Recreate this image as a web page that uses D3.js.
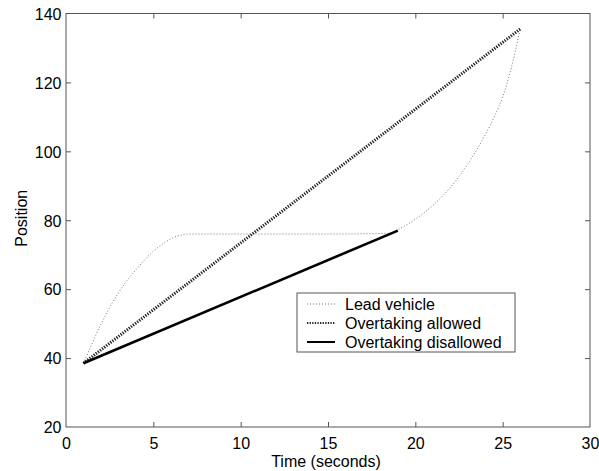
<!DOCTYPE html>
<html>
<head>
<meta charset="utf-8">
<script src="https://cdn.jsdelivr.net/npm/d3@7"></script>
<style>
  html, body { margin: 0; padding: 0; background: #fff; }
  svg { display: block; }
  text { font-family: "Liberation Sans", Arial, sans-serif; fill: #000; }
</style>
</head>
<body>
<svg id="chart" width="599" height="471"></svg>
<script>
// Position over time for the lead vehicle and the two follower strategies
const leadTime  = [1, 1.5, 2, 2.5, 3, 3.5, 4, 4.5, 5, 5.5, 6, 6.5, 7, 10, 15, 18.5, 19, 20, 21, 22, 23, 24, 24.5, 25, 25.5, 26];
const leadPos   = [38.5, 44.3, 49.8, 54.7, 58.9, 62.5, 65.6, 68.5, 71, 73, 74.6, 75.6, 76, 76, 76, 76.2, 77.3, 80.3, 84.3, 89.5, 96.3, 104.8, 109.8, 115.8, 124.3, 135.5];
const allowedTime = [1, 26];
const allowedPos  = [38.5, 135.5];
const disallowedTime = [1, 19];
const disallowedPos  = [38.5, 77];

const xTicks = [0, 5, 10, 15, 20, 25, 30];
const yTicks = [20, 40, 60, 80, 100, 120, 140];
const seriesNames = ["Lead vehicle", "Overtaking allowed", "Overtaking disallowed"];

const svg = d3.select("#chart");
const plotLeft = 66, plotRight = 590, plotTop = 13.5, plotBottom = 427;

const x = d3.scaleLinear().domain([0, 30]).range([plotLeft, plotRight]);
const y = d3.scaleLinear().domain([20, 140]).range([plotBottom, plotTop]);

const axisColor = "#555";

// Frame
svg.append("rect")
  .attr("x", plotLeft).attr("y", plotTop)
  .attr("width", plotRight - plotLeft).attr("height", plotBottom - plotTop)
  .attr("fill", "none").attr("stroke", axisColor).attr("stroke-width", 1);

// Axes with inward ticks on all four sides
const tickLen = 5;
const gx = svg.append("g").attr("transform", `translate(0,${plotBottom})`)
  .call(d3.axisBottom(x).tickValues(xTicks).tickSize(-tickLen).tickPadding(11));
const gxTop = svg.append("g").attr("transform", `translate(0,${plotTop})`)
  .call(d3.axisTop(x).tickValues(xTicks).tickSize(-tickLen).tickFormat(""));
const gy = svg.append("g").attr("transform", `translate(${plotLeft},0)`)
  .call(d3.axisLeft(y).tickValues(yTicks).tickSize(-tickLen).tickPadding(4.5));
const gyRight = svg.append("g").attr("transform", `translate(${plotRight},0)`)
  .call(d3.axisRight(y).tickValues(yTicks).tickSize(-tickLen).tickFormat(""));

[gx, gxTop, gy, gyRight].forEach(g => {
  g.select(".domain").remove();
  g.selectAll(".tick line").attr("stroke", axisColor);
  g.selectAll(".tick text")
    .attr("font-size", "16px")
    .attr("font-family", "Liberation Sans, Arial, sans-serif")
    .attr("fill", "#000");
});
// Drop the edge ticks that coincide with the frame
[gxTop, gx].forEach(g => g.selectAll(".tick line").filter(d => d === 0 || d === 30).remove());
[gy, gyRight].forEach(g => g.selectAll(".tick line").filter(d => d === 20 || d === 140).remove());
gy.selectAll(".tick text").attr("dy", "0.36em");

// Axis titles
svg.append("text")
  .attr("x", (plotLeft + plotRight) / 2 - 2).attr("y", 467)
  .attr("text-anchor", "middle").attr("font-size", "16px")
  .text("Time (seconds)");
svg.append("text")
  .attr("transform", `translate(27,${(plotTop + plotBottom) / 2 - 2}) rotate(-90)`)
  .attr("text-anchor", "middle").attr("font-size", "16px")
  .text("Position");

// Series
const line = d3.line().x(d => x(d[0])).y(d => y(d[1]));
const leadLine = d3.line().x(d => x(d[0])).y(d => y(d[1])).curve(d3.curveMonotoneX);

const styles = [
  { stroke: "#777", width: 1, dash: "1 2" },
  { stroke: "#222", width: 3, dash: "1.3 1.3" },
  { stroke: "#000", width: 2.6, dash: null }
];

svg.append("path")
  .datum(d3.zip(leadTime, leadPos))
  .attr("d", leadLine)
  .attr("fill", "none").attr("stroke", styles[0].stroke)
  .attr("stroke-width", styles[0].width).attr("stroke-dasharray", styles[0].dash);

svg.append("path")
  .datum(d3.zip(allowedTime, allowedPos))
  .attr("d", line)
  .attr("fill", "none").attr("stroke", styles[1].stroke)
  .attr("stroke-width", styles[1].width).attr("stroke-dasharray", styles[1].dash);

svg.append("path")
  .datum(d3.zip(disallowedTime, disallowedPos))
  .attr("d", line)
  .attr("fill", "none").attr("stroke", styles[2].stroke)
  .attr("stroke-width", styles[2].width);

// Legend
const legend = svg.append("g").attr("transform", "translate(297,293)");
legend.append("rect")
  .attr("x", 0).attr("y", 0).attr("width", 218).attr("height", 59)
  .attr("fill", "#fff").attr("stroke", axisColor).attr("stroke-width", 1);
seriesNames.forEach((name, i) => {
  const yy = 11 + i * 19;
  legend.append("line")
    .attr("x1", 10).attr("x2", 38).attr("y1", yy).attr("y2", yy)
    .attr("stroke", styles[i].stroke)
    .attr("stroke-width", i === 0 ? 1 : 2)
    .attr("stroke-dasharray", styles[i].dash);
  legend.append("text")
    .attr("x", 48).attr("y", yy).attr("dy", "0.35em")
    .attr("font-size", "16px")
    .text(name);
});
</script>
</body>
</html>
